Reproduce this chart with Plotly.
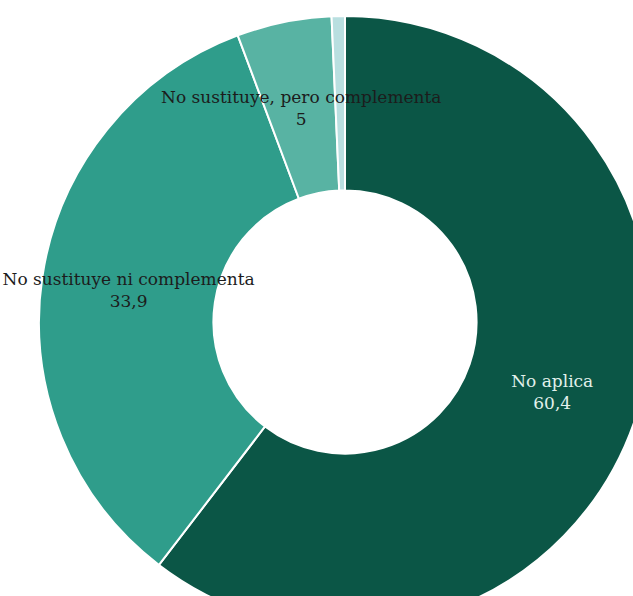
import math
import plotly.graph_objects as go

categories = ["No aplica", "No sustituye ni complementa", "No sustituye, pero complementa", "Sustituye"]
values = [60.4, 33.9, 5, 0.7]
value_labels = ["60,4", "33,9", "5", ""]
colors = ["#0b5646", "#2f9d8b", "#58b3a3", "#b9dfe0"]
text_colors = ["#e2f1ec", "#1c1c1c", "#1c1c1c", "#1c1c1c"]
FONT = "DejaVu Serif"
FSIZE = 17

W, H = 660, 640
cx, cy, R = 345, 322, 306
HOLE = 0.43

# slices wide enough get the pie's own inside text; narrow ones get a centroid label
total = sum(values)
inside_texts, small = [], []
cum = 0
for c, v, lab, tc in zip(categories, values, value_labels, text_colors):
    mid = (cum + v / 2) / total * 2 * math.pi
    cum += v
    txt = f"{c}<br>{lab}" if lab else ""
    if v / total >= 0.2:
        inside_texts.append(txt)
    else:
        inside_texts.append("")
        if txt:
            small.append((txt, mid, tc))

fig = go.Figure(go.Pie(
    labels=categories,
    values=values,
    text=inside_texts,
    textinfo="text",
    hoverinfo="label+value",
    sort=False,
    direction="clockwise",
    rotation=0,
    hole=HOLE,
    marker=dict(colors=colors, line=dict(color="#ffffff", width=2)),
    textposition="inside",
    insidetextorientation="horizontal",
    textfont=dict(family=FONT, size=FSIZE, color=text_colors),
    domain=dict(x=[(cx - R) / W, (cx + R) / W], y=[(H - cy - R) / H, (H - cy + R) / H]),
    showlegend=False,
))

rmid = R * (1 + HOLE) / 2
for txt, mid, tc in small:
    px = cx + rmid * math.sin(mid)
    py = cy - rmid * math.cos(mid)
    fig.add_annotation(
        x=px / W, y=1 - py / H, xref="paper", yref="paper",
        text=txt, showarrow=False, xanchor="center", yanchor="middle",
        font=dict(family=FONT, size=FSIZE, color=tc),
    )

fig.update_layout(
    width=W, height=H,
    margin=dict(l=0, r=0, t=0, b=0),
    paper_bgcolor="white",
    uniformtext=dict(minsize=FSIZE, mode="show"),
)

fig.write_html(
    "out.html",
    config={"displayModeBar": False},
    post_script="document.body.style.margin='0';document.body.style.overflow='hidden';",
)
